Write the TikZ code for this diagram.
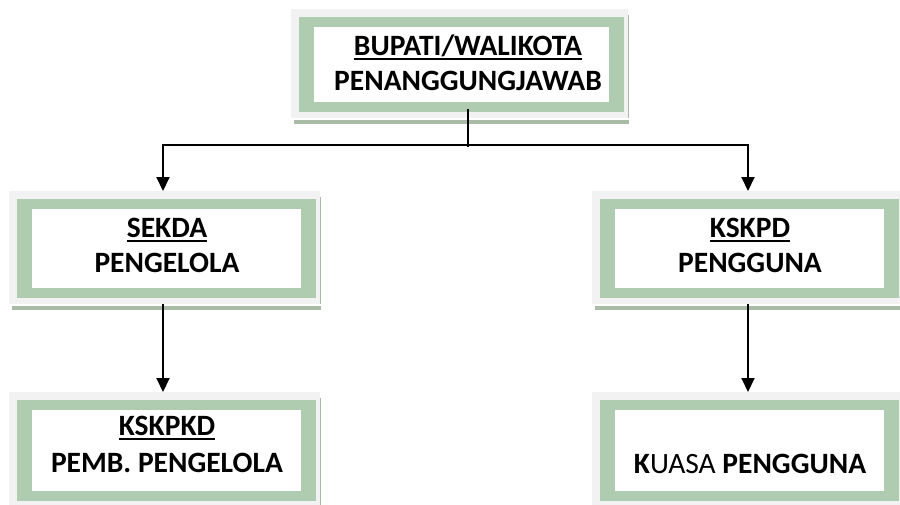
\documentclass[tikz,border=0pt]{standalone}
\usepackage{fontspec}
\setmainfont{Carlito}
\usetikzlibrary{arrows.meta}
\definecolor{boxgreen}{RGB}{176,204,176}
\definecolor{boxgray}{RGB}{242,242,242}
\definecolor{shadowgreen}{RGB}{168,188,166}
\newcommand\ulin[1]{\setbox0=\hbox{#1}\rlap{\rule[-5pt]{\wd0}{1.9pt}}\box0}
\tikzset{
  outerbox/.style={fill=boxgray, inner sep=0pt, outer sep=0pt},
  lbl/.style={anchor=base, inner sep=0pt, font=\fontsize{29.5}{35}\selectfont\bfseries},
  conn/.style={line width=2pt, black},
  arr/.style={conn, -{Triangle[width=13pt,length=14pt]}},
}
% box: #1 name, #2 x1, #3 y1, #4 x2, #5 y2 (gray), green and white insets
\newcommand\orgbox[5]{%
  \fill[shadowgreen] ({#2+3},{#3+6}) rectangle ({#4+1},{#5+6});
  \fill[white] ({#2+3},{#5}) rectangle ({#4+1},{#5+2});
  \node[outerbox, minimum width={(#4-#2)*1pt}, minimum height={(#5-#3)*1pt}] (#1) at ({(#2+#4)/2},{(#3+#5)/2}) {};
  \fill[boxgreen] ({#2+8},{#3+8}) rectangle ({#4-4},{#5-6});
  \fill[white] ({#2+23},{#3+18}) rectangle ({#4-19},{#5-16});
}
\begin{document}
\begin{tikzpicture}[x=1pt,y=-1pt]
\useasboundingbox (0,0) rectangle (900,504);
\fill[white] (0,0) rectangle (900,504);
\orgbox{top}{291}{9}{628}{118}
\orgbox{sekda}{9}{191}{320}{304}
\orgbox{kskpd}{592}{191}{903}{304}
\orgbox{kskpkd}{9}{392}{320}{507}
\orgbox{kuasa}{592}{392}{903}{507}
% texts
\node[lbl] (topA) at (468,55) {\ulin{BUPATI/WALIKOTA}};
\node[lbl] (topB) at (468,90) {PENANGGUNGJAWAB};
\node[lbl] (sekdaA) at (167,237) {\ulin{SEKDA}};
\node[lbl] (sekdaB) at (167,272) {PENGELOLA};
\node[lbl] (kskpdA) at (750,237) {\ulin{KSKPD}};
\node[lbl] (kskpdB) at (750,272) {PENGGUNA};
\node[lbl] (kskpkdA) at (167,435) {\ulin{KSKPKD}};
\node[lbl] (kskpkdB) at (167,472) {PEMB. PENGELOLA};
\node[lbl] (kuasaB) at (750,473) {K\mdseries UASA \bfseries PENGGUNA};
% connectors
\coordinate (stem) at (468,109);
\coordinate (split) at (468,147);
\coordinate (hl) at (163,145);
\coordinate (hr) at (748,145);
\draw[conn] (stem) -- (split);
\draw[conn, line cap=rect] (hl) -- (hr);
\draw[arr] (hl) -- (hl |- sekda.north);
\draw[arr] (hr) -- (hr |- kskpd.north);
\draw[arr] (hl |- sekda.south) -- (hl |- kskpkd.north);
\draw[arr] (hr |- kskpd.south) -- (hr |- kuasa.north);
\end{tikzpicture}
\end{document}
